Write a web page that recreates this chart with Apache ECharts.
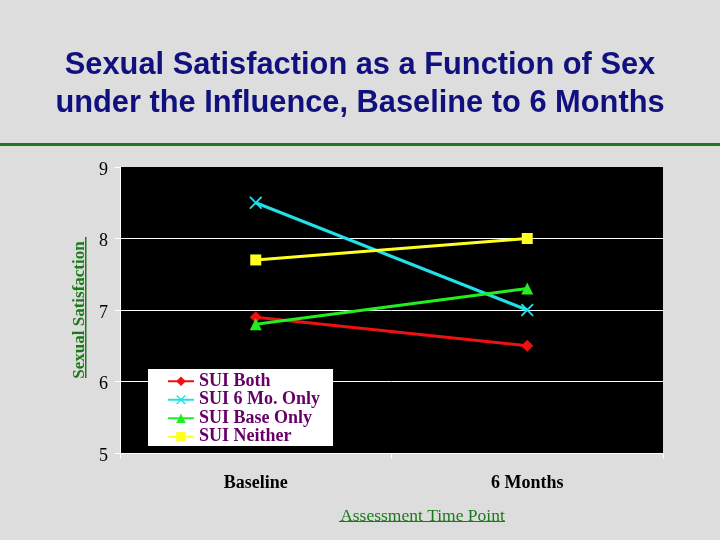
<!DOCTYPE html>
<html>
<head>
<meta charset="utf-8">
<script src="https://cdn.jsdelivr.net/npm/echarts@6/dist/echarts.min.js"></script>
<style>
html, body { margin: 0; padding: 0; background: #dddddd; }
#chart { width: 720px; height: 540px; }
</style>
</head>
<body>
<div id="chart"></div>
<script>
let chart = echarts.init(document.getElementById("chart"));

// data
let timePoints = ["Baseline", "6 Months"];
let suiBoth = [6.9, 6.5];
let sui6MoOnly = [8.5, 7.0];
let suiBaseOnly = [6.8, 7.3];
let suiNeither = [7.7, 8.0];

let crossIcon = "path://M0,1L1,0L10,9L9,10Z M9,0L10,1L1,10L0,9Z";
let serif = "Liberation Serif";
let green = "#1c7a1c";

function line(name, data, color, symbol, size) {
	return {
		name, type: "line", data,
		symbol, symbolSize: size,
		lineStyle: {color, width: 3},
		itemStyle: {color},
		emphasis: {disabled: true}
	};
}

chart.setOption({
	backgroundColor: "#dddddd",
	animation: false,
	title: {
		text: "Sexual Satisfaction as a Function of Sex\nunder the Influence, Baseline to 6 Months",
		left: "center", top: 42,
		textStyle: {fontFamily: "Liberation Sans", fontWeight: "bold", fontSize: 30.8, lineHeight: 38, color: "#10107e"}
	},
	graphic: [
		// green rule under the title and the underlines of the axis names
		{type: "rect", shape: {x: 0, y: 143, width: 720, height: 3}, style: {fill: green}},
		{type: "rect", shape: {x: 85, y: 237, width: 1.5, height: 141}, style: {fill: green}},
		{type: "rect", shape: {x: 339, y: 521, width: 166, height: 1}, style: {fill: green}}
	],
	legend: {
		orient: "vertical", left: 148, top: 369,
		backgroundColor: "#ffffff",
		padding: [3, 13, 0, 19],
		itemGap: 0, itemWidth: 26, itemHeight: 12,
		textStyle: {fontFamily: serif, fontWeight: "bold", fontSize: 18, lineHeight: 18.5, color: "#660066"},
		data: ["SUI Both", "SUI 6 Mo. Only", "SUI Base Only", "SUI Neither"]
	},
	grid: {left: 120, right: 57, top: 167, bottom: 87, show: true, backgroundColor: "#000000", borderWidth: 0},
	xAxis: {
		type: "category", data: timePoints, boundaryGap: true,
		name: "Assessment Time Point", nameLocation: "middle", nameGap: 54,
		nameTextStyle: {fontFamily: serif, fontSize: 17.5, color: green, padding: [0, 0, 0, 62]},
		axisLine: {lineStyle: {color: "#ffffff", width: 1}},
		axisTick: {show: true, length: 6, lineStyle: {color: "#ffffff"}},
		axisLabel: {fontFamily: serif, fontWeight: "bold", fontSize: 18, color: "#000000", margin: 21},
		splitLine: {show: false}
	},
	yAxis: {
		type: "value", min: 5, max: 9, interval: 1,
		name: "Sexual Satisfaction", nameLocation: "middle", nameRotate: 90, nameGap: 32,
		nameTextStyle: {fontFamily: serif, fontWeight: "bold", fontSize: 17, color: green},
		axisLine: {show: true, lineStyle: {color: "#ffffff", width: 1}},
		axisTick: {show: true, length: 5, lineStyle: {color: "#ffffff"}},
		axisLabel: {
			color: "#000000", margin: 12,
			formatter: "{v|{value}}",
			rich: {v: {fontFamily: serif, fontSize: 18, color: "#000000", padding: [6, 0, 0, 0]}}
		},
		splitLine: {show: true, lineStyle: {color: ["#ffffff", "#ffffff", "#ffffff", "#ffffff", "#000000"], width: 1}}
	},
	series: [
		line("SUI Both", suiBoth, "#ee1111", "diamond", 12),
		line("SUI 6 Mo. Only", sui6MoOnly, "#22e0e8", crossIcon, 13),
		line("SUI Base Only", suiBaseOnly, "#22ee22", "triangle", 12),
		line("SUI Neither", suiNeither, "#ffff22", "rect", 11)
	]
});
</script>
</body>
</html>
